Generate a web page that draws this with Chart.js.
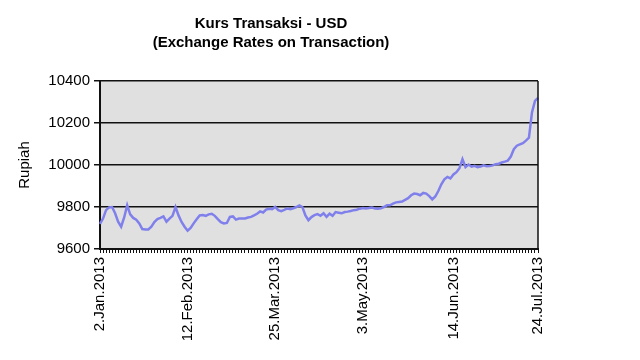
<!DOCTYPE html>
<html>
<head>
<meta charset="utf-8">
<script src="https://cdn.jsdelivr.net/npm/chart.js@4/dist/chart.umd.min.js"></script>
<style>
  html, body { margin: 0; padding: 0; background: #fff; }
  #wrap { width: 640px; height: 360px; }
</style>
</head>
<body>
<div id="wrap"><canvas id="kursChart" width="640" height="360"></canvas></div>
<script>
// Shown date ticks on the x axis
const tickLabels = ['2.Jan.2013', '12.Feb.2013', '25.Mar.2013', '3.May.2013', '14.Jun.2013', '24.Jul.2013']

// Transaction rate USD -> Rupiah, one value per trading day (2 Jan - 24 Jul 2013)
const rates = [
  9720, 9745, 9785, 9798, 9800, 9770, 9730, 9706, 9750, 9808,
  9765, 9748, 9740, 9722, 9695, 9693, 9693, 9706, 9728, 9742,
  9748, 9755, 9730, 9745, 9758, 9800, 9760, 9729, 9706, 9687,
  9700, 9722, 9742, 9760, 9762, 9758, 9765, 9768, 9758, 9742,
  9728, 9722, 9724, 9753, 9755, 9740, 9745, 9745, 9745, 9750,
  9753, 9760, 9768, 9779, 9774, 9788, 9792, 9790, 9800, 9785,
  9780, 9786, 9793, 9790, 9794, 9800, 9808, 9800, 9760, 9737,
  9752, 9761, 9766, 9758, 9770, 9753, 9768, 9758, 9776, 9773,
  9770, 9776, 9778, 9781, 9785, 9787, 9792, 9795, 9793, 9795,
  9798, 9793, 9792, 9794, 9800, 9808, 9808, 9816, 9822, 9824,
  9826, 9834, 9842, 9856, 9864, 9862, 9856, 9867, 9864, 9852,
  9836, 9850, 9876, 9908, 9932, 9943, 9936, 9955, 9966, 9985,
  10028, 9990, 10002, 9992, 9996, 9990, 9993, 9998, 9994, 9995,
  9998, 10004, 10006, 10012, 10016, 10021, 10040, 10075, 10092, 10098,
  10104, 10116, 10130, 10250, 10305, 10320
]

const yTicks = [9600, 9800, 10000, 10200, 10400]

// Trading days = weekdays from 2 Jan to 24 Jul 2013
const months = ['Jan', 'Feb', 'Mar', 'Apr', 'May', 'Jun', 'Jul', 'Aug', 'Sep', 'Oct', 'Nov', 'Dec']
const dates = []
for (let d = new Date(2013, 0, 2); d <= new Date(2013, 6, 24); d.setDate(d.getDate() + 1)) {
  const wd = d.getDay()
  if (wd === 0 || wd === 6) continue
  dates.push(d.getDate() + '.' + months[d.getMonth()] + '.' + d.getFullYear())
}

const FONT = "'Liberation Sans', Arial, sans-serif"

// grey plot background + right frame line
const plotFrame = {
  id: 'plotFrame',
  beforeDraw(chart) {
    const { ctx, chartArea: a } = chart
    ctx.save()
    ctx.fillStyle = '#e0e0e0'
    ctx.fillRect(a.left, a.top, a.right - a.left, a.bottom - a.top)
    ctx.restore()
  },
  afterDraw(chart) {
    const { ctx, chartArea: a } = chart
    ctx.save()
    ctx.strokeStyle = '#111'
    ctx.lineWidth = 1.5
    ctx.beginPath()
    ctx.moveTo(a.right, a.top)
    ctx.lineTo(a.right, a.bottom)
    ctx.stroke()
    ctx.restore()
  }
}

new Chart(document.getElementById('kursChart'), {
  type: 'line',
  data: {
    labels: dates,
    datasets: [{
      label: 'USD',
      data: rates,
      borderColor: 'rgb(128, 128, 236)',
      borderWidth: 2.5,
      pointRadius: 0,
      tension: 0,
      fill: false
    }]
  },
  options: {
    responsive: false,
    animation: false,
    layout: { padding: { left: 4, right: 102, top: 0, bottom: 0 } },
    plugins: {
      legend: { display: false },
      tooltip: { enabled: false },
      title: {
        display: true,
        text: ['Kurs Transaksi - USD', '(Exchange Rates on Transaction)'],
        color: '#000',
        font: { family: FONT, size: 15, weight: 'bold', lineHeight: 1.3 },
        padding: { top: 14, bottom: 28 }
      }
    },
    scales: {
      x: {
        type: 'category',
        offset: false,
        afterFit(scale) {
          scale.height = 111
        },
        border: { display: true, color: '#111', width: 2 },
        grid: { drawOnChartArea: false, drawTicks: true, tickLength: 4, color: '#111', lineWidth: 1 },
        ticks: {
          autoSkip: false,
          minRotation: 90,
          maxRotation: 90,
          padding: 4,
          color: '#000',
          font: { family: FONT, size: 15 },
          callback(value) {
            const lbl = this.getLabelForValue(value)
            return tickLabels.includes(lbl) ? lbl : ''
          }
        }
      },
      y: {
        min: 9600,
        max: 10400,
        afterBuildTicks(scale) {
          scale.ticks = yTicks.map(v => ({ value: v }))
        },
        afterFit(scale) {
          scale.width = 96
        },
        border: { display: true, color: '#111', width: 2 },
        grid: { color: '#111', lineWidth: 1.5, tickLength: 6 },
        ticks: {
          padding: 4,
          color: '#000',
          font: { family: FONT, size: 15 },
          callback: value => String(value)
        },
        title: {
          display: true,
          text: 'Rupiah',
          color: '#000',
          font: { family: FONT, size: 15 },
          padding: { top: 12, bottom: 8 }
        }
      }
    }
  },
  plugins: [plotFrame]
})
</script>
</body>
</html>
